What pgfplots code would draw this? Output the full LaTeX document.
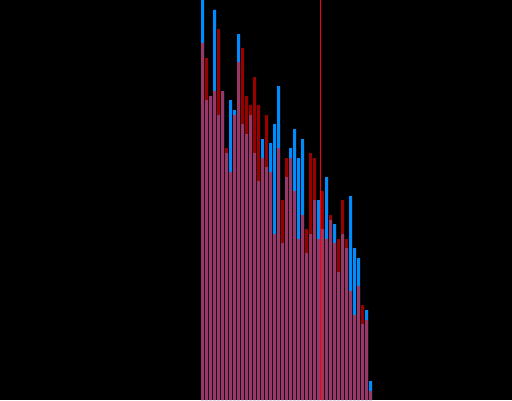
\documentclass[border=0pt]{standalone}
\usepackage{pgfplots}
\usepackage{pgfplotstable}
\pgfplotsset{compat=1.18}
\definecolor{barblue}{RGB}{0,140,255}
\pgfplotstableread{
k blue red
0 405 357
1 300 342
2 304 304
3 390 309
4 285 371
5 309 309
6 247 252
7 300 228
8 290 285
9 366 338
10 276 352
11 266 304
12 285 295
13 247 323
14 219 295
15 261 242
16 233 285
17 257 228
18 276 166
19 314 252
20 157 200
21 223 242
22 252 242
23 271 209
24 242 161
25 261 185
26 147 171
27 166 247
28 200 242
29 200 161
30 171 209
31 223 161
32 180 185
33 176 157
34 128 161
35 166 200
36 152 161
37 204 109
38 152 85
39 142 114
40 76 95
41 90 80
42 19 9
}\data
\begin{document}
\begin{tikzpicture}
\begin{axis}[
  width=512pt, height=400pt, scale only axis,
  xmin=-50.625, xmax=77.375, ymin=0, ymax=400,
  axis line style={draw=none}, ticks=none,
  axis background/.style={fill=black},
  clip=true,
]
\addplot[ybar, bar width=3pt, bar shift=0pt, fill=barblue, draw=none] table[x=k, y=blue] {\data};
\addplot[ybar, bar width=3pt, bar shift=0pt, fill=red, fill opacity=0.6, draw=none] table[x=k, y=red] {\data};
\addplot[red, line width=1pt] coordinates {(29.5,0) (29.5,400)};
\end{axis}
\end{tikzpicture}
\end{document}
